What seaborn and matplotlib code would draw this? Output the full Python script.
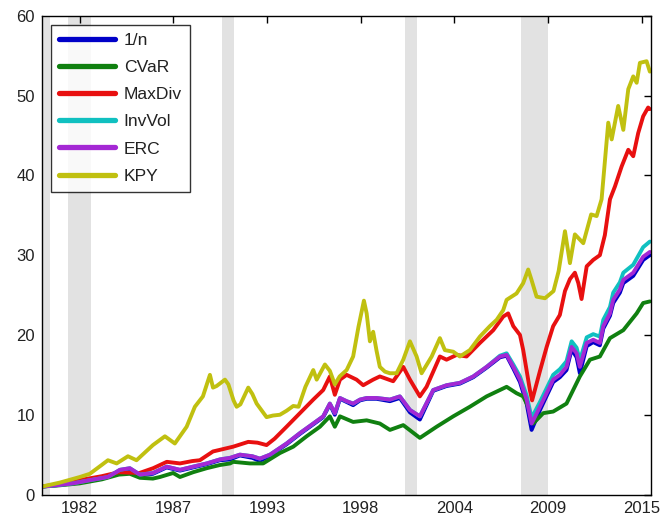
import numpy as np
import pandas as pd
import matplotlib
matplotlib.use("Agg")
import matplotlib.pyplot as plt
import seaborn as sns

# ---- cumulative wealth of each allocation rule (growth of 1 unit) ----
kpy_years = [1980.0, 1981.05, 1982.22, 1982.8, 1983.49, 1983.86, 1984.37, 1985.03, 1985.53, 1986.49,
             1987.19, 1987.77, 1988.46, 1988.94, 1989.41, 1989.82, 1990.0, 1990.21, 1990.7, 1990.9,
             1991.2, 1991.38, 1991.6, 1992.06, 1992.3, 1992.55, 1993.13, 1993.5, 1993.91, 1994.3,
             1994.69, 1995.0, 1995.4, 1995.86, 1996.06, 1996.54, 1996.83, 1997.12, 1997.4, 1997.81,
             1998.19, 1998.5, 1998.82, 1998.98, 1999.17, 1999.36, 1999.56, 1999.75, 2000.05, 2000.34,
             2000.73, 2001.12, 2001.51, 2001.9, 2002.19, 2002.78, 2003.26, 2003.55, 2004.04, 2004.43,
             2005.01, 2005.6, 2006.18, 2006.58, 2006.96, 2007.16, 2007.74, 2008.13, 2008.42, 2008.6,
             2008.91, 2009.4, 2009.9, 2010.2, 2010.57, 2010.86, 2011.15, 2011.64, 2012.1, 2012.42,
             2012.71, 2013.1, 2013.3, 2013.68, 2013.98, 2014.27, 2014.56, 2014.76, 2014.95, 2015.34,
             2015.53]
kpy = [1.0, 1.5, 2.2, 2.6, 3.7, 4.3, 3.9, 4.8, 4.3, 6.2,
       7.3, 6.4, 8.5, 11.0, 12.3, 15.0, 13.4, 13.6, 14.4, 13.8,
       11.8, 11.0, 11.3, 13.4, 12.6, 11.4, 9.7, 9.9, 10.0, 10.5,
       11.1, 11.0, 13.5, 15.6, 14.4, 16.3, 15.5, 13.8, 14.8, 15.6,
       17.3, 21.0, 24.3, 22.7, 19.2, 20.4, 18.0, 16.0, 15.4, 15.2,
       15.2, 16.9, 19.2, 17.3, 15.2, 17.3, 19.6, 18.1, 17.9, 17.3,
       18.1, 19.8, 21.1, 21.9, 23.1, 24.4, 25.2, 26.5, 28.2, 27.0,
       24.8, 24.6, 25.5, 28.0, 33.0, 29.0, 32.6, 31.5, 35.1, 34.9,
       37.0, 46.6, 44.5, 48.7, 45.7, 50.8, 52.4, 51.6, 54.1, 54.3,
       53.0]

maxdiv_years = [1980.0, 1981.0, 1982.2, 1983.5, 1984.5, 1985.7, 1986.5, 1987.3, 1988.07, 1988.8,
                1989.23, 1990.0, 1990.4, 1991.18, 1992.06, 1992.6, 1993.13, 1993.6, 1994.3, 1995.08,
                1995.86, 1996.44, 1996.83, 1997.12, 1997.42, 1997.81, 1998.39, 1998.78, 1999.36, 1999.75,
                2000.53, 2001.12, 2001.51, 2002.09, 2002.48, 2003.26, 2003.65, 2004.24, 2004.82, 2005.6,
                2006.38, 2006.96, 2007.25, 2007.55, 2007.94, 2008.13, 2008.52, 2008.65, 2009.11, 2009.5,
                2009.88, 2010.27, 2010.57, 2010.86, 2011.15, 2011.35, 2011.54, 2011.84, 2012.22, 2012.61,
                2012.9, 2013.2, 2013.49, 2013.88, 2014.27, 2014.56, 2014.85, 2015.14, 2015.43, 2015.53]
maxdiv = [1.0, 1.3, 1.8, 2.3, 2.8, 2.7, 3.3, 4.1, 3.9, 4.2,
          4.3, 5.4, 5.6, 6.0, 6.6, 6.5, 6.2, 7.0, 8.5, 10.2,
          11.9, 13.1, 14.8, 12.5, 14.4, 15.0, 14.4, 13.7, 14.4, 14.8,
          14.2, 16.0, 14.4, 12.3, 13.5, 17.3, 16.9, 17.5, 17.3, 19.0,
          20.6, 22.3, 22.7, 21.1, 20.0, 18.1, 13.1, 11.8, 15.5, 18.5,
          21.1, 22.5, 25.5, 27.0, 27.8, 26.5, 24.5, 28.6, 29.4, 30.0,
          32.5, 37.0, 38.6, 41.1, 43.2, 42.4, 45.3, 47.4, 48.5, 48.3]

eq_years = [1980.0, 1981.0, 1981.81, 1982.8, 1983.86, 1984.56, 1985.14, 1985.73, 1986.49, 1987.29,
            1988.07, 1988.84, 1989.63, 1990.4, 1991.0, 1991.57, 1992.3, 1992.74, 1993.33, 1994.3,
            1995.08, 1995.86, 1996.44, 1996.83, 1997.12, 1997.42, 1997.81, 1998.19, 1998.59, 1998.98,
            1999.56, 2000.34, 2000.92, 2001.51, 2002.09, 2002.87, 2003.65, 2004.43, 2005.21, 2005.99,
            2006.77, 2007.16, 2007.55, 2007.94, 2008.33, 2008.62, 2009.11, 2009.88, 2010.27, 2010.66,
            2010.96, 2011.25, 2011.44, 2011.84, 2012.22, 2012.61, 2012.81, 2013.2, 2013.39, 2013.78,
            2013.98, 2014.56, 2015.14, 2015.53]
erc = [1.0, 1.2, 1.4, 1.8, 2.2, 3.1, 3.3, 2.5, 2.7, 3.5,
       3.1, 3.5, 3.9, 4.4, 4.6, 5.0, 4.8, 4.5, 5.0, 6.4,
       7.7, 8.9, 9.8, 11.4, 10.2, 12.1, 11.7, 11.4, 11.9, 12.1,
       12.1, 11.9, 12.3, 10.6, 9.8, 13.1, 13.7, 14.0, 14.8, 16.0,
       17.3, 17.5, 16.0, 14.4, 11.9, 8.9, 11.0, 14.4, 15.0, 16.0,
       18.5, 17.7, 16.0, 19.0, 19.4, 19.0, 21.1, 22.7, 24.4, 25.7,
       26.9, 27.8, 29.8, 30.4]
one_over_n = [1.0, 1.2, 1.4, 1.8, 2.2, 3.0, 3.2, 2.4, 2.6, 3.4,
              3.0, 3.4, 3.8, 4.3, 4.4, 4.9, 4.6, 4.2, 4.9, 6.3,
              7.6, 8.8, 9.7, 11.3, 10.0, 12.0, 11.6, 11.2, 11.8, 12.0,
              12.0, 11.7, 12.1, 10.3, 9.4, 13.0, 13.6, 13.9, 14.7, 15.9,
              17.2, 17.4, 15.8, 14.1, 11.4, 8.1, 10.6, 14.1, 14.7, 15.6,
              18.2, 17.2, 15.2, 18.6, 19.1, 18.7, 20.8, 22.4, 24.0, 25.3,
              26.5, 27.4, 29.4, 30.0]
invvol = [1.0, 1.2, 1.4, 1.8, 2.2, 3.1, 3.3, 2.5, 2.7, 3.5,
          3.1, 3.5, 3.9, 4.4, 4.6, 5.0, 4.8, 4.5, 5.0, 6.4,
          7.7, 8.9, 9.8, 11.4, 10.2, 12.1, 11.7, 11.4, 11.9, 12.1,
          12.1, 11.9, 12.3, 10.6, 9.8, 13.1, 13.7, 14.0, 14.8, 16.0,
          17.4, 17.7, 16.3, 14.8, 12.4, 9.6, 11.6, 15.0, 15.7, 16.7,
          19.2, 18.4, 16.8, 19.7, 20.1, 19.8, 21.9, 23.5, 25.3, 26.6,
          27.8, 28.8, 31.0, 31.7]

cvar_years = [1980.0, 1981.0, 1982.2, 1983.5, 1984.5, 1985.14, 1985.73, 1986.49, 1986.9, 1987.67,
              1988.07, 1988.84, 1989.63, 1990.4, 1991.0, 1991.18, 1992.16, 1992.93, 1993.91, 1994.69,
              1995.47, 1996.25, 1996.83, 1997.12, 1997.42, 1998.19, 1998.98, 1999.75, 2000.34, 2001.12,
              2002.09, 2003.07, 2004.04, 2005.01, 2005.99, 2007.16, 2007.74, 2008.13, 2008.42, 2008.71,
              2009.3, 2009.88, 2010.66, 2011.44, 2012.03, 2012.61, 2013.2, 2013.98, 2014.76, 2015.14,
              2015.53]
cvar = [1.0, 1.15, 1.4, 1.9, 2.5, 2.6, 2.1, 2.0, 2.2, 2.7,
        2.2, 2.8, 3.3, 3.7, 3.9, 4.1, 3.9, 3.9, 5.2, 6.0,
        7.3, 8.5, 9.8, 8.5, 9.8, 9.1, 9.3, 8.9, 8.1, 8.7,
        7.1, 8.5, 9.8, 11.0, 12.3, 13.5, 12.7, 12.3, 11.0, 8.9,
        10.2, 10.4, 11.4, 14.8, 16.9, 17.3, 19.6, 20.6, 22.7, 24.0,
        24.2]

strategies = ["1/n", "CVaR", "MaxDiv", "InvVol", "ERC", "KPY"]
colors = ["#0000c8", "#108010", "#e81010", "#10c0c0", "#a428d4", "#c0c010"]

# recession periods shaded in the background
recessions = [(1980.0, 1980.5), (1981.5, 1982.85), (1990.5, 1991.2),
              (2001.2, 2001.95), (2008.0, 2009.55)]

# axis ticks (evenly spaced in time, labelled by calendar year)
tick_labels = ["1982", "1987", "1993", "1998", "2004", "2009", "2015"]
tick_start, tick_step = 1982.2, 5.476
y_ticks = [0, 10, 20, 30, 40, 50, 60]

frames = [
    pd.DataFrame({"year": eq_years, "wealth": one_over_n, "strategy": "1/n"}),
    pd.DataFrame({"year": cvar_years, "wealth": cvar, "strategy": "CVaR"}),
    pd.DataFrame({"year": maxdiv_years, "wealth": maxdiv, "strategy": "MaxDiv"}),
    pd.DataFrame({"year": eq_years, "wealth": invvol, "strategy": "InvVol"}),
    pd.DataFrame({"year": eq_years, "wealth": erc, "strategy": "ERC"}),
    pd.DataFrame({"year": kpy_years, "wealth": kpy, "strategy": "KPY"}),
]
df = pd.concat(frames, ignore_index=True)

sns.set_style("white")
plt.rcParams["font.family"] = ["Liberation Sans", "DejaVu Sans"]

fig = plt.figure(figsize=(6.65, 5.25), dpi=100)
ax = fig.add_axes([0.063, 0.058, 0.916, 0.912])

for start, end in recessions:
    ax.axvspan(start, end, color="#e2e2e2", lw=0, zorder=0)

sns.lineplot(data=df, x="year", y="wealth", hue="strategy", hue_order=strategies,
             palette=colors, estimator=None, sort=False, linewidth=2.8, ax=ax,
             legend=False, zorder=2)

ax.set_xlim(1980.0, 2015.6)
ax.set_ylim(0, 60)
ax.set_xticks([tick_start + i * tick_step for i in range(len(tick_labels))])
ax.set_xticklabels(tick_labels)
ax.set_yticks(y_ticks)
ax.set_xlabel("")
ax.set_ylabel("")
ax.tick_params(axis="both", which="both", direction="in", length=5, width=1,
               color="black", top=True, right=True, labelsize=12, pad=5,
               labelcolor="#222222")
for side in ax.spines.values():
    side.set_color("black")
    side.set_linewidth(1.0)
    side.set_visible(True)

handles = [plt.Line2D([], [], color=c, lw=3.8) for c in colors]
leg = ax.legend(handles, strategies, loc="upper left", bbox_to_anchor=(0.015, 0.981),
                borderaxespad=0, fontsize=12.6, handlelength=3.2, handletextpad=0.5,
                labelspacing=0.68, borderpad=0.45, fancybox=False, frameon=True)
leg.get_frame().set_edgecolor("black")
leg.get_frame().set_linewidth(1.0)
for t in leg.get_texts():
    t.set_color("#222222")

fig.savefig("out.png", dpi=100, facecolor="white")
